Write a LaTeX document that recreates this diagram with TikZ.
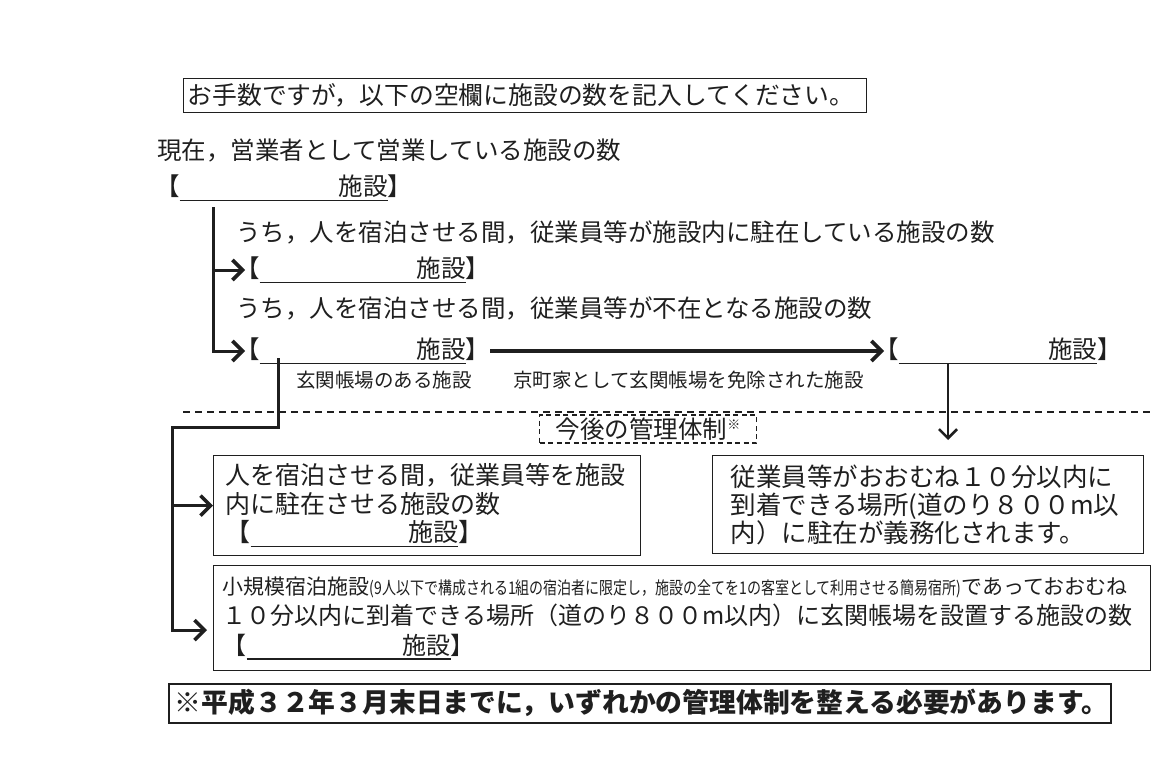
\documentclass[tikz,border=0pt]{standalone}
\usepackage{fontspec}
\setmainfont{Noto Sans CJK JP}
\usepackage{xcolor}
\usepackage{graphicx}
\usepackage{tikz}
\usetikzlibrary{calc, positioning, arrows.meta}
\definecolor{inkc}{gray}{0.12}
\newcommand{\kuran}[1]{【\makebox[#1][r]{施設}\llap{\rule[-0.22em]{#1}{1.1pt}}】}
\tikzset{
    txt/.style={anchor=west, inner sep=0pt, text=inkc, font=\fontsize{24.5}{28}\selectfont},
    small/.style={anchor=west, inner sep=0pt, text=inkc, font=\fontsize{19.5}{22}\selectfont},
    frame/.style={rectangle, draw=inkc, line width=1.2pt, inner ysep=0pt, text=inkc, align=left},
    panel/.style={frame, anchor=north west},
    dashbox/.style={rectangle, draw=inkc, line width=1.3pt, dash pattern=on 5pt off 3.5pt, inner sep=0pt, text=inkc},
    trunk/.style={draw=inkc, line width=3pt},
    arrow/.style={trunk, -{Straight Barb[length=10pt,width=20pt,line width=3.6pt]}},
    tobracket/.style={shorten >=-10pt},
    arrowthin/.style={draw=inkc, line width=2pt, -{Straight Barb[length=9pt,width=18pt,line width=2.6pt]}},
    sepline/.style={draw=inkc, line width=1.5pt, dash pattern=on 7pt off 5pt}
}
\begin{document}
\begin{tikzpicture}[x=1pt, y=-1pt]
    \useasboundingbox[fill=white] (0,0) rectangle (1174,770);

    % Header
    \node[frame, anchor=north west, minimum width=683pt, minimum height=34pt, text width=675pt, inner xsep=4pt, font=\fontsize{24.8}{28}\selectfont] (intro) at (183,78) {お手数ですが，以下の空欄に施設の数を記入してください。};

    % Questions
    \node[txt] (q0) at (157,150) {現在，営業者として営業している施設の数};
    \node[txt] (b0) at (155,188) {\kuran{8.5em}};
    \node[txt] (q1) at (236,232) {うち，人を宿泊させる間，従業員等が施設内に駐在している施設の数};
    \node[txt] (b1) at (235,270) {\kuran{8.4em}};
    \node[txt] (q2) at (236,308) {うち，人を宿泊させる間，従業員等が不在となる施設の数};
    \node[txt] (b2) at (235,351) {\kuran{8.4em}};
    \node[txt] (b3) at (874,351) {\kuran{8.1em}};
    \node[small] (lab1) at (296,380) {玄関帳場のある施設};
    \node[small] (lab2) at (513,380) {京町家として玄関帳場を免除された施設};

    % Separator
    \coordinate (sepL) at (183,412);
    \coordinate (sepR) at (1152,412);
    \draw[sepline] (sepL) -- (sepR);
    \node[dashbox, fill=white, minimum width=217pt, minimum height=28pt, font=\fontsize{24.5}{28}\selectfont] (future) at (648,429) {今後の管理体制\raisebox{0.35em}{\fontsize{13}{13}\selectfont ※}};

    % Boxes
    \node[panel, minimum width=427pt, minimum height=100pt, text width=403pt, inner xsep=12pt, font=\fontsize{25}{28.5}\selectfont] (boxA) at (213,455) {人を宿泊させる間，従業員等を施設\\内に駐在させる施設の数\\\kuran{8.3em}};
    \node[panel, minimum width=431pt, minimum height=98pt, text width=395pt, inner xsep=18pt, font=\fontsize{25.5}{28}\selectfont] (boxB) at (712,455) {従業員等がおおむね１０分以内に\\到着できる場所(道のり８００m以\\内）に駐在が義務化されます。};
    \node[panel, minimum width=937pt, minimum height=105pt, text width=919pt, inner xsep=9pt, font=\fontsize{24}{30}\selectfont] (boxC) at (213,565) {{\fontsize{21}{30}\selectfont 小規模宿泊施設\scalebox{0.8}[1]{\fontsize{17.5}{17.5}\selectfont (9人以下で構成される1組の宿泊者に限定し，施設の全てを1の客室として利用させる簡易宿所)}であっておおむね}\\１０分以内に到着できる場所（道のり８００m以内）に玄関帳場を設置する施設の数\\\kuran{8.5em}};
    \node[panel, line width=1.6pt, minimum width=942pt, minimum height=39pt, text width=930pt, inner xsep=6pt, font=\fontsize{26.8}{30}\selectfont\bfseries] (note) at (168,683) {※平成３２年３月末日までに，いずれかの管理体制を整える必要があります。};

    % Connectors
    \coordinate (t0) at (213,207);
    \draw[arrow, tobracket] (t0) |- (b1.west);
    \draw[arrow, tobracket] (t0) |- (b2.west);
    \draw[arrow, line width=3.5pt, tobracket] (b2.east) -- (b3.west);
    \coordinate (d1) at (948,440);
    \draw[arrowthin] (b3.south -| d1) -- (d1);
    \coordinate (k0) at (278,358);
    \coordinate (k1) at (172,427);
    \draw[arrow, shorten >=6pt] (k0) |- (k1) |- ([yshift=-12pt]boxC.west);
    \draw[arrow] (k1) |- (boxA.west);
\end{tikzpicture}
\end{document}
